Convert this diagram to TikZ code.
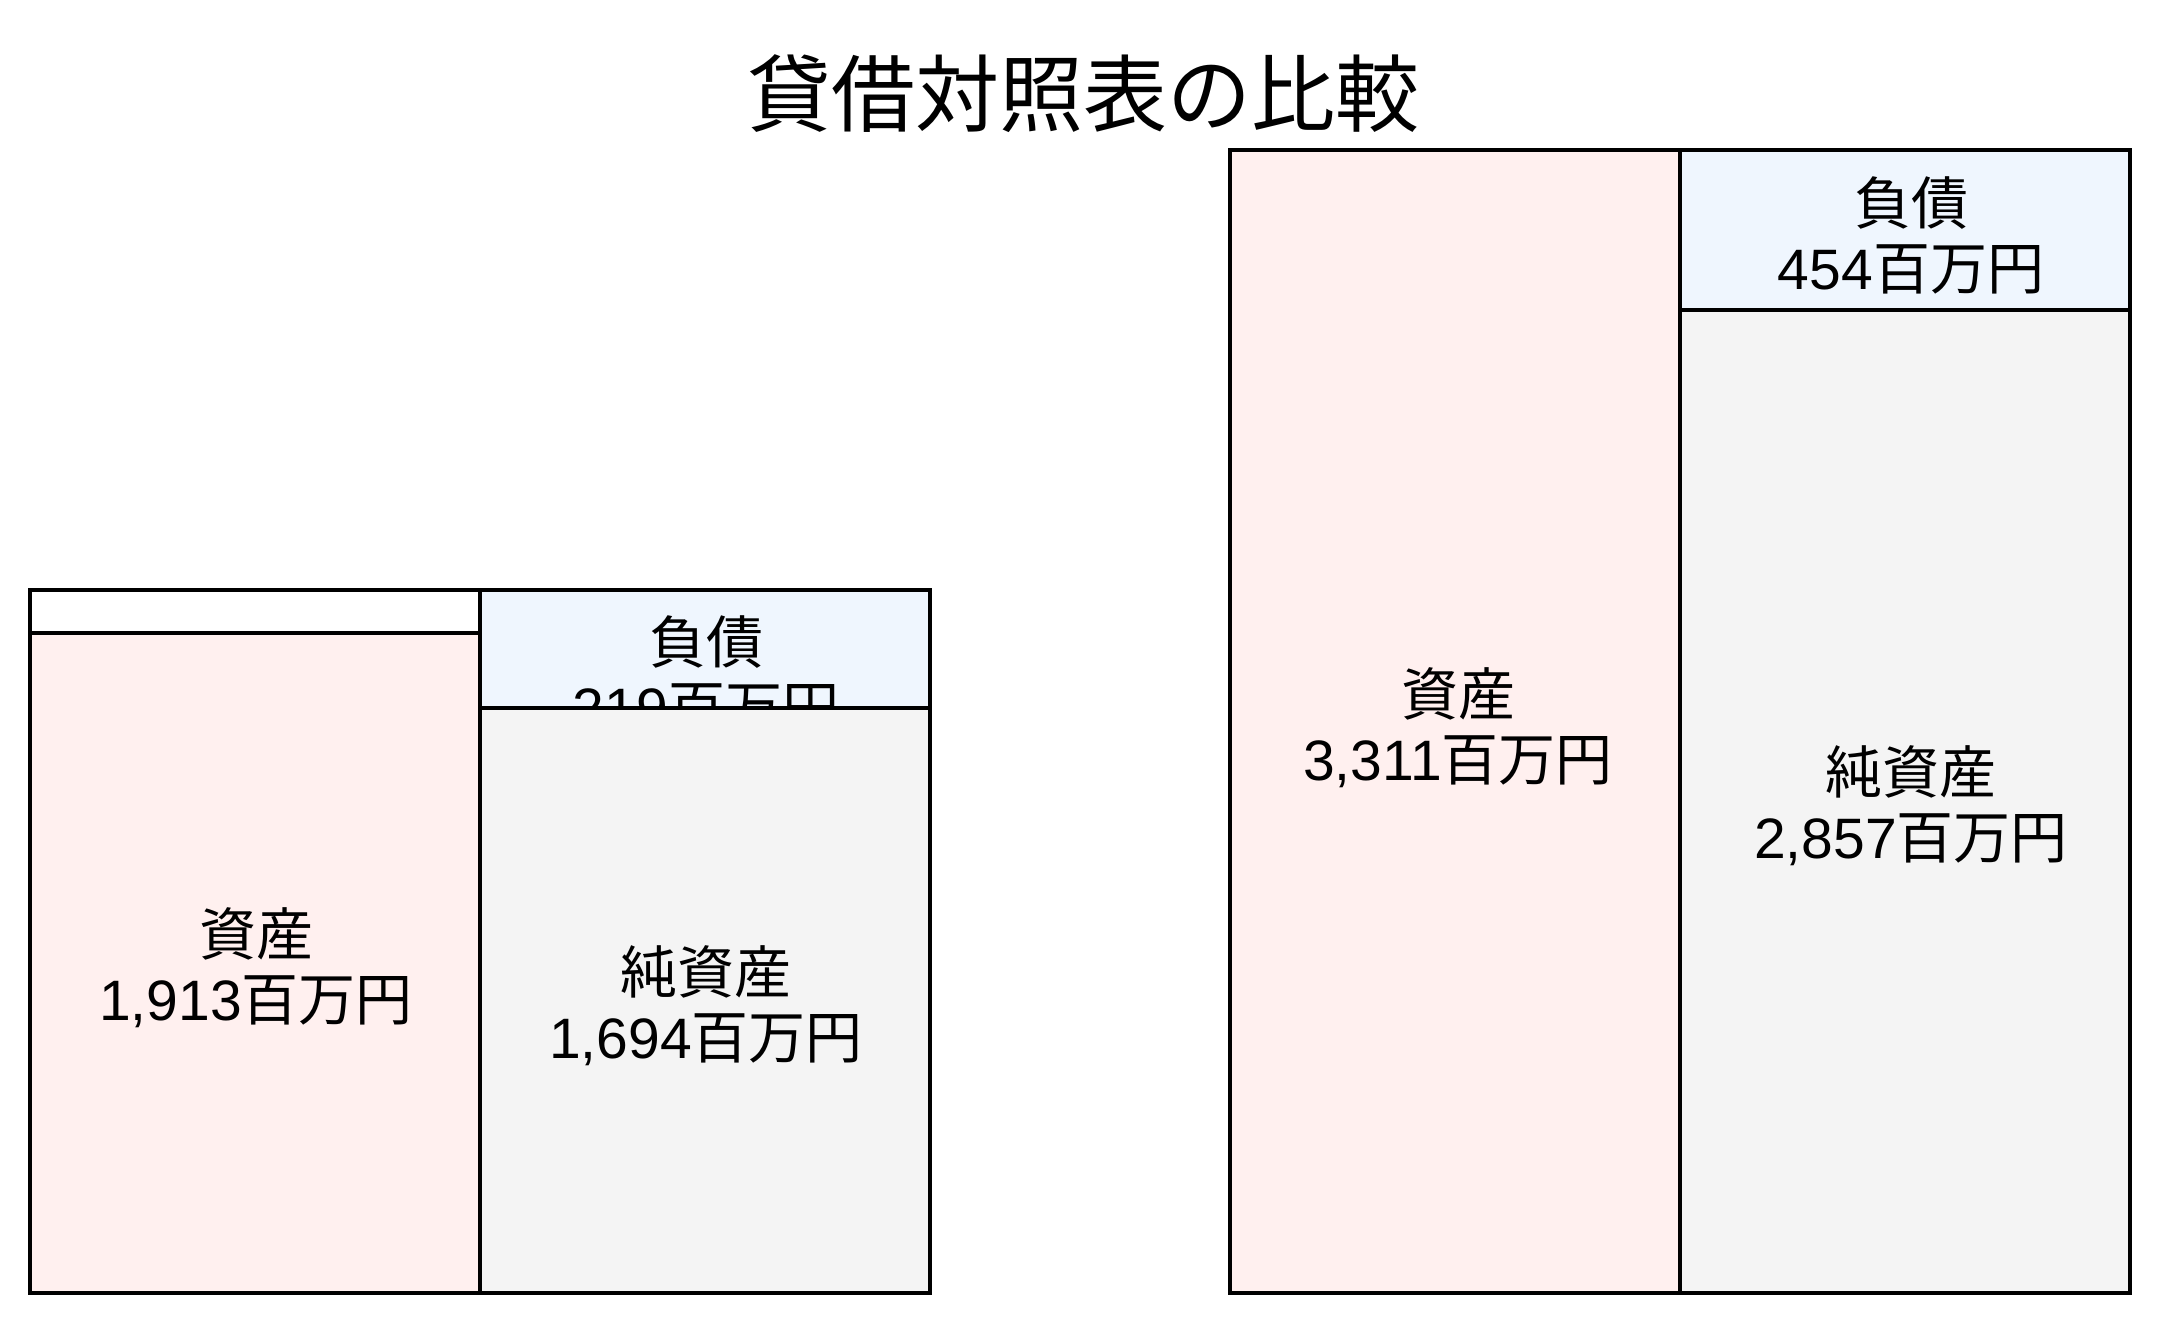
\documentclass[tikz,border=0pt]{standalone}
\usepackage{fontspec}
\setmainfont{Liberation Sans}
\newfontfamily\jp{Noto Sans CJK JP}
\definecolor{assetc}{HTML}{FFF0EF}
\definecolor{liabc}{HTML}{EFF6FE}
\definecolor{eqc}{HTML}{F4F4F4}
\begin{document}
\begin{tikzpicture}[x=0.5pt,y=-0.5pt,
  bar/.style={draw=black,line width=2pt},
  lbl/.style={align=center,inner sep=0pt,font=\fontsize{28.5}{32.5}\selectfont}]
\useasboundingbox[fill=white] (0,0) rectangle (2160,1323);
\node[inner sep=0pt,font=\jp\fontsize{42}{48}\selectfont] (title) at (1083,94) {貸借対照表の比較};
% left chart
\draw[bar,fill=white] (30,590) rectangle (480,633);
\draw[bar,fill=assetc] (30,633) rectangle (480,1293);
\node[lbl] (la) at (256,968) {{\jp 資産}\\1,913{\jp 百万円}};
\draw[bar,fill=liabc] (480,590) rectangle (930,708);
\node[lbl] (ll) at (706,674) {{\jp 負債}\\219{\jp 百万円}};
\draw[bar,fill=eqc] (480,708) rectangle (930,1293);
\node[lbl] (le) at (706,1006) {{\jp 純資産}\\1,694{\jp 百万円}};
% right chart
\draw[bar,fill=assetc] (1230,150) rectangle (1680,1293);
\node[lbl] (ra) at (1458,728) {{\jp 資産}\\3,311{\jp 百万円}};
\draw[bar,fill=liabc] (1680,150) rectangle (2130,310);
\node[lbl] (rl) at (1911,235) {{\jp 負債}\\454{\jp 百万円}};
\draw[bar,fill=eqc] (1680,310) rectangle (2130,1293);
\node[lbl] (re) at (1911,806) {{\jp 純資産}\\2,857{\jp 百万円}};
\end{tikzpicture}
\end{document}
